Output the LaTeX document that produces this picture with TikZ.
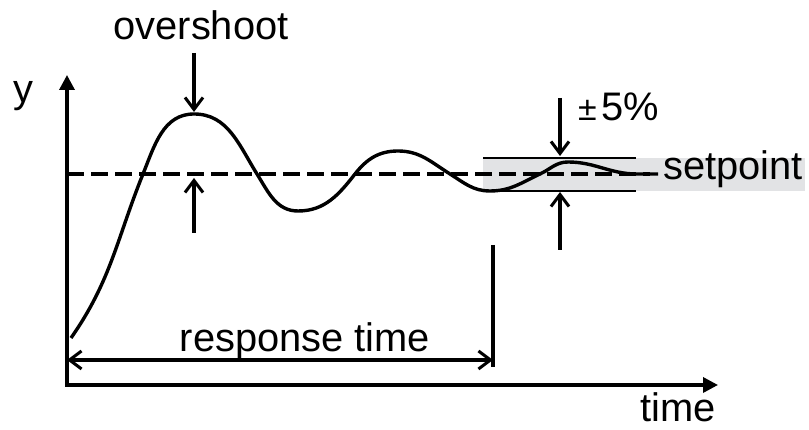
\documentclass[tikz,border=0pt]{standalone}
\usepackage{fontspec}
\setmainfont{Liberation Sans}
\usetikzlibrary{arrows.meta}
\definecolor{bandgray}{RGB}{226,227,229}
\tikzset{
  axis/.style={line width=2.9pt,-{Triangle[length=4.5mm,width=4.5mm]}},
  pointer/.style={line width=2.6pt,-{Straight Barb[length=3.6mm,width=5.4mm]}},
  lbl/.style={inner sep=0pt,font=\fontsize{34}{40}\selectfont},
}
\begin{document}
\begin{tikzpicture}[x=0.03cm,y=0.03cm]
\useasboundingbox (0,0) rectangle (809,430);

%tolerance band
\fill[bandgray] (483,239) rectangle (805,272);
\draw[line width=1.2pt] (483,272) -- (636,272);
\draw[line width=1.2pt] (483,239) -- (636,239);

%points
\coordinate (origin) at (67,45);
\coordinate (ytop) at (67,355);
\coordinate (xend) at (718,45);
\coordinate (spstart) at (67,256);
\coordinate (spend) at (650,256);
\coordinate (peaktop) at (194,377);
\coordinate (peak) at (194,318);
\coordinate (spbelow) at (194,197);
\coordinate (sppeak) at (194,252);
\coordinate (bandtop) at (560,332);
\coordinate (bandhi) at (560,274);
\coordinate (bandbelow) at (560,180);
\coordinate (bandlo) at (560,238);
\coordinate (rtop) at (493,185);
\coordinate (rbot) at (493,63);
\coordinate (rleft) at (67,70);
\coordinate (rright) at (493,70);

%setpoint
\draw[line width=2.9pt,dash pattern=on 14.5pt off 6pt] (spstart) -- (spend);

%axes
\draw[axis] (origin) -- (ytop);
\draw[axis,shorten <=-1.45pt] (origin) -- (xend);

%response
\draw[line width=2.9pt] (71,92) to[out=55,in=248] (143,256)
  to[out=68,in=180] (194,316) to[out=0,in=122] (257,256)
  to[out=-58,in=180] (298,219) to[out=0,in=-128] (355,256)
  to[out=52,in=180] (398,279) to[out=0,in=148] (450,256)
  to[out=-32,in=180] (490,239) to[out=0,in=-155] (540,256)
  to[out=25,in=180] (568,268) to[out=0,in=180] (637,256) -- (658,256);

%arrows
\draw[pointer] (peaktop) -- (peak);
\draw[pointer] (spbelow) -- (sppeak);
\draw[pointer] (bandtop) -- (bandhi);
\draw[pointer] (bandbelow) -- (bandlo);
\draw[line width=2.6pt] (rtop) -- (rbot);
\draw[line width=2.6pt,{Straight Barb[length=3.6mm,width=5.4mm]}-{Straight Barb[length=3.6mm,width=5.4mm]}] (rleft) -- (rright);

%text
\node[lbl,anchor=base] (overshoot) at (201,390) {overshoot};
\node[lbl,anchor=base] (ylabel) at (23,327) {y};
\node[lbl,anchor=base west] (pct) at (578,309) {{\fontsize{29}{30}\selectfont ±}\hspace{4pt}5\%};
\node[lbl,anchor=base west] (setpoint) at (663,250) {setpoint};
\node[lbl,anchor=base] (resptime) at (305,78) {response time};
\node[lbl,anchor=base east] (timelabel) at (716,8) {time};
\end{tikzpicture}
\end{document}
